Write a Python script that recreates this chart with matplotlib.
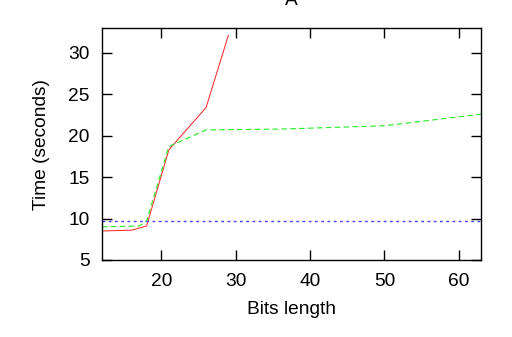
import matplotlib
matplotlib.use("Agg")
import matplotlib.pyplot as plt

plt.rcParams['font.family'] = ['Liberation Sans', 'DejaVu Sans']

red_x = [12, 16, 18, 21, 26, 29]
red_y = [8.5, 8.6, 9.1, 18.3, 23.4, 32.1]
green_x = [12, 17, 18, 21, 26, 36, 50, 63]
green_y = [9.0, 9.1, 9.7, 18.7, 20.7, 20.8, 21.2, 22.6]
blue_x = [12, 63]
blue_y = [9.7, 9.7]

FS = 13.8
fig = plt.figure(figsize=(5.12, 3.37), dpi=100)
ax = fig.add_axes([102/512, 1-260/337, (481-102)/512, (260-28)/337])

ax.plot(red_x, red_y, color='#ff2020', lw=0.7)
ax.plot(green_x, green_y, color='#22ee22', lw=0.8, dashes=(5, 3))
ax.plot(blue_x, blue_y, color='#4040ff', lw=1.0, dashes=(2, 2.5))

ax.set_xlim(12, 63)
ax.set_ylim(5, 33)
ax.set_xticks([20, 30, 40, 50, 60])
ax.set_yticks([5, 10, 15, 20, 25, 30])
ax.tick_params(direction='in', length=7, width=1, top=True, right=True,
               labelsize=FS, pad=9, colors='black')
for s in ax.spines.values():
    s.set_linewidth(1.0)
ax.set_xlabel('Bits length', fontsize=FS, labelpad=8)
ax.set_ylabel('Time (seconds)', fontsize=FS, labelpad=13)
fig.text(291.5/512, 1-5/337, 'A', ha='center', va='baseline', fontsize=FS)

fig.savefig('out.png', dpi=100)
